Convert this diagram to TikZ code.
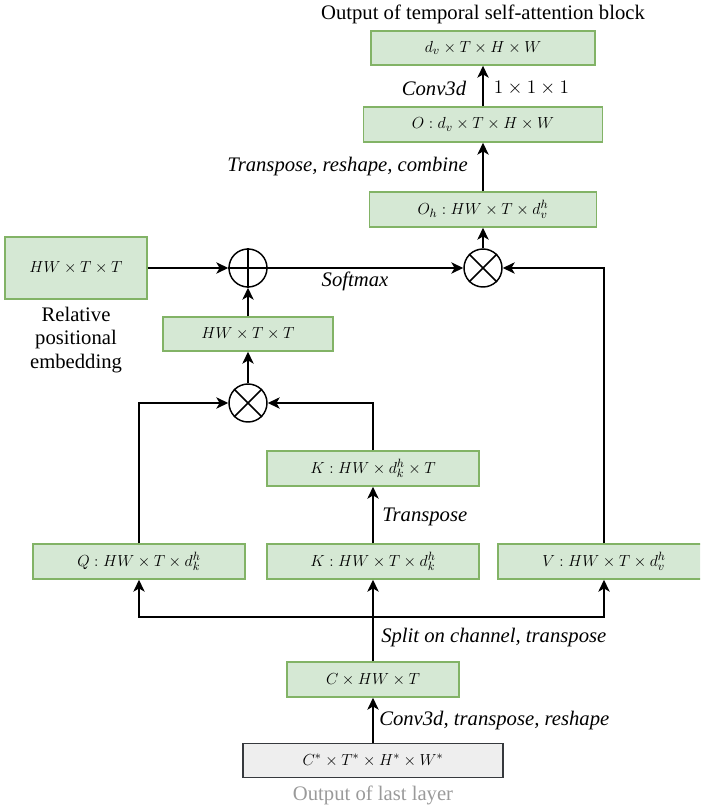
\documentclass[tikz,border=0pt]{standalone}
\usepackage[no-math]{fontspec}
\setmainfont{Liberation Serif}
\usetikzlibrary{arrows.meta}
\definecolor{gfill}{HTML}{D5E8D4}
\definecolor{gdraw}{HTML}{82B366}
\definecolor{kfill}{HTML}{EEEEEE}
\definecolor{kdraw}{HTML}{36393D}
\definecolor{lbl}{HTML}{9A9A9A}
\begin{document}
\begin{tikzpicture}[x=0.75pt,y=-0.75pt,
  sz/.style 2 args={minimum width=#1*0.75pt, minimum height=#2*0.75pt},
  gbox/.style={draw=gdraw,fill=gfill,line width=1.1pt,inner sep=0pt,font=\fontsize{13}{15}\selectfont},
  kbox/.style={draw=kdraw,fill=kfill,line width=1.1pt,inner sep=0pt,font=\fontsize{13}{15}\selectfont},
  opc/.style={circle,draw,line width=1.1pt,minimum size=28.5pt,inner sep=0pt},
  txt/.style={inner sep=0pt,font=\fontsize{15.5}{17.5}\selectfont},
  itxt/.style={inner sep=0pt,font=\fontsize{15.5}{17.5}\selectfont\itshape},
  arr/.style={line width=1.1pt,-{Stealth[length=9pt,width=8.5pt,inset=2.5pt]}},
  ln/.style={line width=1.1pt}]
\clip (0,0) rectangle (700,809);
% boxes
\node[gbox,sz={224}{34}] (top) at (483,48) {$d_v\times T\times H\times W$};
\node[gbox,sz={239}{35}] (O) at (483,124.5) {$O:d_v\times T\times H\times W$};
\node[gbox,sz={227}{35}] (Oh) at (483,209.5) {$O_h:HW\times T\times d_v^h$};
\node[gbox,sz={142}{62}] (rel) at (76,268) {$HW\times T\times T$};
\node[gbox,sz={170}{34}] (mid) at (248,334) {$HW\times T\times T$};
\node[gbox,sz={212}{35}] (KT) at (373,468.5) {$K:HW\times d_k^h\times T$};
\node[gbox,sz={212}{35}] (Q) at (139,561.5) {$Q:HW\times T\times d_k^h$};
\node[gbox,sz={212}{35}] (K) at (373,561.5) {$K:HW\times T\times d_k^h$};
\node[gbox,sz={212}{35}] (V) at (604,561.5) {$V:HW\times T\times d_v^h$};
\node[gbox,sz={172}{35}] (C) at (373,679.5) {$C\times HW\times T$};
\node[kbox,sz={260}{34}] (in) at (373,760.5) {$C^*\times T^*\times H^*\times W^*$};
% operators
\node[opc] (times1) at (483,268) {};
\draw[ln] (times1.north east) -- (times1.south west) (times1.north west) -- (times1.south east);
\node[opc] (plus) at (248,268) {};
\draw[ln] (plus.north) -- (plus.south) (plus.west) -- (plus.east);
\node[opc] (times2) at (248,403) {};
\draw[ln] (times2.north east) -- (times2.south west) (times2.north west) -- (times2.south east);
% texts
\node[txt] (title) at (483,14) {Output of temporal self-attention block};
\node[txt,align=center] (reltxt) at (76,340) {Relative\\positional\\embedding};
\node[txt,text=lbl] (lasttxt) at (373,795) {Output of last layer};
\node[itxt] (conv) at (434,88) {Conv3d};
\node[inner sep=0pt,font=\fontsize{13.5}{15}\selectfont] (one) at (531.5,88) {$1\times1\times1$};
\node[itxt,anchor=east] (trc) at (468,167) {Transpose, reshape, combine};
\node[itxt] (sm) at (355,281) {Softmax};
\node[itxt,anchor=west] (tr) at (382,517) {Transpose};
\node[itxt,anchor=west] (split) at (381,638) {Split on channel, transpose};
\node[itxt,anchor=west] (ctr) at (379,721) {Conv3d, transpose, reshape};
% connectors
\coordinate (sp) at (373,617);
\draw[arr] (in.north) -- (C.south);
\draw[ln] (C.north) -- (sp);
\draw[arr] (sp) -| (Q.south);
\draw[arr] (sp) -| (V.south);
\draw[arr] (sp) -- (K.south);
\draw[arr] (K.north) -- (KT.south);
\draw[arr] (Q.north) |- (times2.west);
\draw[arr] (KT.north) |- (times2.east);
\draw[arr] (times2.north) -- (mid.south);
\draw[arr] (mid.north) -- (plus.south);
\draw[arr] (rel.east) -- (plus.west);
\draw[arr] (plus.east) -- (times1.west);
\draw[arr] (V.north) |- (times1.east);
\draw[arr] (times1.north) -- (Oh.south);
\draw[arr] (Oh.north) -- (O.south);
\draw[arr] (O.north) -- (top.south);
\end{tikzpicture}
\end{document}
